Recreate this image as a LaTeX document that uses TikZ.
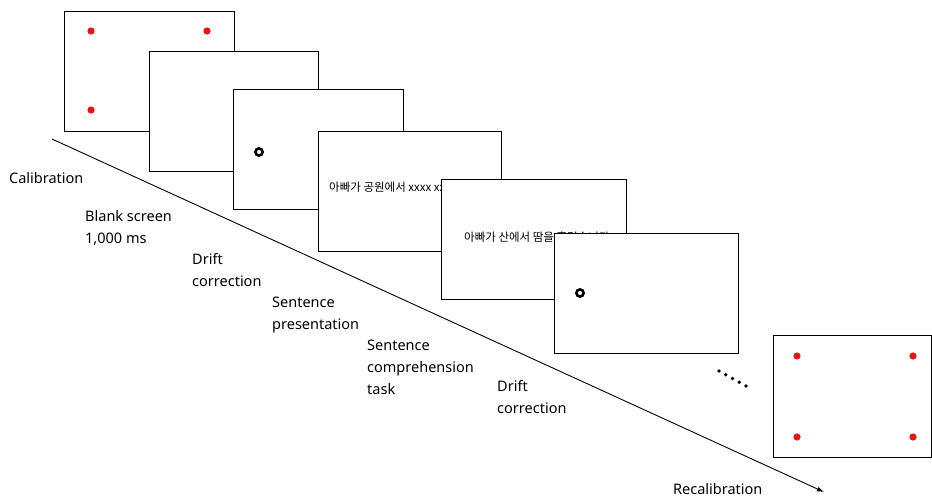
\documentclass[tikz,border=0pt]{standalone}
\usepackage{fontspec}
\setmainfont{Noto Sans}
\newfontfamily\krfont{Noto Sans CJK KR}
\usepackage{xcolor}
\usetikzlibrary{arrows.meta}
\definecolor{dotred}{RGB}{235,20,20}
\tikzset{screen/.style={draw=black, fill=white, line width=1pt, minimum width=#1, minimum height=120pt, inner sep=0pt, anchor=north west},
  steplabel/.style={anchor=west, align=left, font=\fontsize{14.5}{22}\selectfont, inner sep=0pt}}

\begin{document}
\begin{tikzpicture}[x=1pt,y=-1pt]
\useasboundingbox (0,0) rectangle (932,497);
% time line
\coordinate (tstart) at (52,139);
\coordinate (tend) at (824,492);
\draw[black, line width=0.9pt, -{Latex[length=7pt,width=5pt]}] (tstart) -- (tend);
% screens, back to front
\node[screen=170pt] (calib) at (64,11) {};
\fill[dotred] (91,31) circle (3.6) (207,31) circle (3.6) (91,110) circle (3.6);
\node[screen=169pt] (blank) at (149,51) {};
\node[screen=170pt] (drift1) at (233,89) {};
\draw[black, line width=2.6pt] (259,152) circle (3.6);
\node[screen=183pt] (sent) at (318,131) {};
\node[anchor=west, inner sep=0pt, font=\krfont\fontsize{11.5}{13}\selectfont] (senttext) at (329,187) {아빠가 공원에서 xxxx xxxx};
\node[screen=185pt] (compr) at (441,179) {};
\node[anchor=west, inner sep=0pt, font=\krfont\fontsize{11.5}{13}\selectfont] (comprtext) at (464,237) {아빠가 산에서 땀을 흘렸습니다.};
\node[screen=184pt] (drift2) at (554,233) {};
\draw[black, line width=2.6pt] (580,293) circle (3.6);
%\draw[step=10,gray,very thin] (0,0) grid (932,497);
\foreach \i in {0,...,4}
  \fill (719+6.75*\i,371+3.75*\i) circle (1.9);
\node[screen=158pt, minimum height=122pt] (recalib) at (773,335) {};
\fill[dotred] (797,356) circle (3.6) (913,356) circle (3.6) (797,437) circle (3.6) (913,437) circle (3.6);
% labels
\node[steplabel] (l1) at (9,178) {Calibration};
\node[steplabel] (l2) at (85,228) {Blank screen\\1,000 ms};
\node[steplabel] (l3) at (192,270) {Drift\\correction};
\node[steplabel] (l4) at (272,315) {Sentence\\presentation};
\node[steplabel] (l5) at (367,367) {Sentence\\comprehension\\task};
\node[steplabel] (l6) at (497,397) {Drift\\correction};
\node[steplabel] (l7) at (673,489) {Recalibration};
\end{tikzpicture}
\end{document}
